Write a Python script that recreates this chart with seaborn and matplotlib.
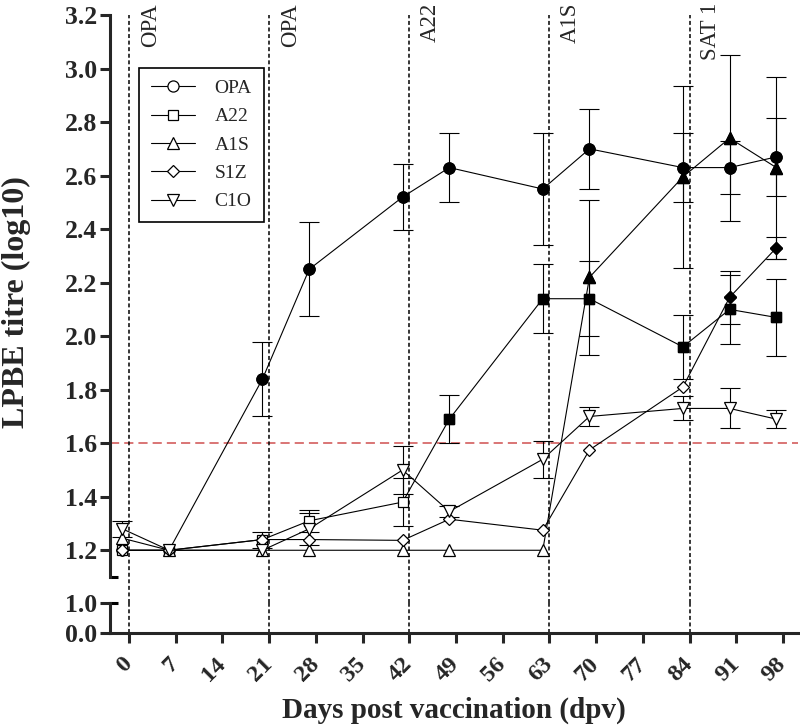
import matplotlib
matplotlib.use("Agg")
import matplotlib.pyplot as plt
import pandas as pd
import seaborn as sns
from matplotlib.lines import Line2D

# sampling days (dpv) and group means / SD of LPBE titres (log10)
days = [-1, 6, 20, 27, 41, 48, 62, 69, 83, 90, 97]
serotypes = ["OPA", "A22", "A1S", "S1Z", "C1O"]

opa_mean = [1.20, 1.20, 1.84, 2.25, 2.52, 2.63, 2.55, 2.70, 2.63, 2.63, 2.67]
opa_sd = [0, 0, 0.14, 0.175, 0.125, 0.13, 0.21, 0.15, 0.13, 0.10, 0.145]
a22_mean = [1.20, 1.20, 1.24, 1.31, 1.38, 1.69, 2.14, 2.14, 1.96, 2.10, 2.07]
a22_sd = [0, 0, 0.03, 0.04, 0.09, 0.09, 0.13, 0.14, 0.12, 0.13, 0.145]
a1s_mean = [1.245, 1.20, 1.20, 1.20, 1.20, 1.20, 1.20, 2.22, 2.595, 2.74, 2.63]
a1s_sd = [0, 0, 0, 0, 0, 0, 0, 0.29, 0.34, 0.31, 0.34]
s1z_mean = [1.20, 1.20, 1.24, 1.24, 1.237, 1.316, 1.275, 1.575, 1.81, 2.145, 2.33]
s1z_sd = [0, 0, 0, 0, 0, 0, 0, 0, 0, 0.10, 0.04]
c1o_mean = [1.28, 1.20, 1.20, 1.28, 1.50, 1.345, 1.54, 1.70, 1.73, 1.73, 1.69]
c1o_sd = [0.03, 0, 0, 0.06, 0.09, 0.02, 0.07, 0.035, 0.045, 0.075, 0.035]

# first sampling day drawn with a filled marker (None = always open)
filled_from = {"OPA": 20, "A22": 48, "A1S": 69, "S1Z": 90, "C1O": None}

vacc_days = [0, 21, 42, 63, 84]
vacc_labels = ["OPA", "OPA", "A22", "A1S", "SAT 1"]
threshold = 1.6
xticks = list(range(0, 99, 7))
yticks_top = [1.2, 1.4, 1.6, 1.8, 2.0, 2.2, 2.4, 2.6, 2.8, 3.0, 3.2]
yticks_low = [0.0, 1.0]

markers = {"OPA": "o", "A22": "s", "A1S": "^", "S1Z": "D", "C1O": "v"}
msizes = {"OPA": 8, "A22": 7.5, "A1S": 8, "S1Z": 6, "C1O": 8}

means = [opa_mean, a22_mean, a1s_mean, s1z_mean, c1o_mean]
sds = [opa_sd, a22_sd, a1s_sd, s1z_sd, c1o_sd]
frames = []
for name, m, s in zip(serotypes, means, sds):
    first = filled_from[name]
    frames.append(pd.DataFrame({
        "serotype": name, "day": days, "titre": m, "sd": s,
        "filled": [first is not None and d >= first for d in days],
    }))
df = pd.concat(frames, ignore_index=True)

sns.set_style("ticks")
plt.rcParams["font.family"] = ["Liberation Serif", "DejaVu Serif"]

fig = plt.figure(figsize=(8, 7.27), dpi=100)
ax = fig.add_axes([0.1375, 0.2063, 0.86, 0.773])
ax_lo = fig.add_axes([0.1375, 0.1293, 0.86, 0.0413], sharex=ax)

for name in serotypes:
    sub = df[df.serotype == name]
    bars = sub[sub.sd > 0]
    ax.errorbar(bars.day, bars.titre, yerr=bars.sd, fmt="none", ecolor="black",
                elinewidth=0.8, capsize=7, capthick=0.8, zorder=2)
    sns.lineplot(data=sub, x="day", y="titre", ax=ax, color="black", lw=0.8,
                 marker=markers[name], markersize=msizes[name],
                 markerfacecolor="white", markeredgecolor="black",
                 markeredgewidth=0.9, errorbar=None, zorder=3)
    full = sub[sub.filled]
    ax.plot(full.day, full.titre, linestyle="none", marker=markers[name],
            ms=msizes[name], mfc="black", mec="black", zorder=4)

ax.axhline(threshold, color="#d05050", lw=1.1, ls=(0, (6, 3.3)), zorder=1)

pos_hi, pos_lo = ax.get_position(), ax_lo.get_position()
gap = (pos_hi.y0 - pos_lo.y1) / pos_hi.height
for d, lab in zip(vacc_days, vacc_labels):
    ax.axvline(d, ymin=-gap, ymax=1, color="black", lw=1.1,
               ls=(0, (2.6, 1.7)), clip_on=False, zorder=1)
    ax_lo.axvline(d, color="black", lw=1.1, ls=(0, (2.6, 1.7)), zorder=1)
    ax.text(d + 1.6, 3.245, lab, rotation=90, ha="left", va="top", fontsize=16.5)

ax.set_xlim(-2.85, 100.25)
ax.set_ylim(1.1, 3.2)
ax.set_yticks(yticks_top)
ax.set_yticklabels([f"{v:.1f}" for v in yticks_top])
ax.tick_params(axis="x", bottom=False, labelbottom=False)
sns.despine(ax=ax, bottom=True)

ax_lo.set_ylim(0, 1)
ax_lo.set_yticks(yticks_low)
ax_lo.set_yticklabels([f"{v:.1f}" for v in yticks_low])
ax_lo.set_xticks(xticks)
ax_lo.set_xticklabels([str(t) for t in xticks])
sns.despine(ax=ax_lo)

for a in (ax, ax_lo):
    a.set_xlabel("")
    a.set_ylabel("")
    for sp in a.spines.values():
        sp.set_linewidth(2.2)
    a.tick_params(width=2.2, length=7, labelsize=18.5, pad=2, direction="out")
    for t in a.get_yticklabels() + a.get_xticklabels():
        t.set_fontweight("bold")

for t in ax_lo.get_xticklabels():
    t.set_rotation(45)
    t.set_ha("right")
    t.set_va("center")
    t.set_rotation_mode("anchor")
ax_lo.tick_params(axis="x", pad=13, labelsize=17.5)

# axis-break caps on the y axis
cap = 8 / (pos_hi.width * 800)
ax.plot([0, cap], [0, 0], transform=ax.transAxes, color="black", lw=2.2,
        clip_on=False, solid_capstyle="butt")
ax_lo.plot([0, cap], [1, 1], transform=ax_lo.transAxes, color="black", lw=2.2,
           clip_on=False, solid_capstyle="butt")

handles = [Line2D([], [], color="black", lw=0.8, marker=markers[n], ms=msizes[n],
                  mfc="white", mec="black", mew=0.9) for n in serotypes]
leg = ax.legend(handles, serotypes, loc="upper left", bbox_to_anchor=(0.042, 0.906),
                fontsize=14, frameon=True, fancybox=False, edgecolor="black",
                framealpha=1, handlelength=2.3, handletextpad=1.0,
                labelspacing=0.55, borderpad=0.6, borderaxespad=0)
leg.get_frame().set_linewidth(1.2)

fig.text(0.003, 0.585, "LPBE titre (log10)", rotation=90, ha="left",
         va="center", fontsize=23, fontweight="bold")
fig.text(0.5675, 0.0124, "Days post vaccination (dpv)", ha="center",
         va="baseline", fontsize=21, fontweight="bold")

fig.savefig("out.png", dpi=100)
